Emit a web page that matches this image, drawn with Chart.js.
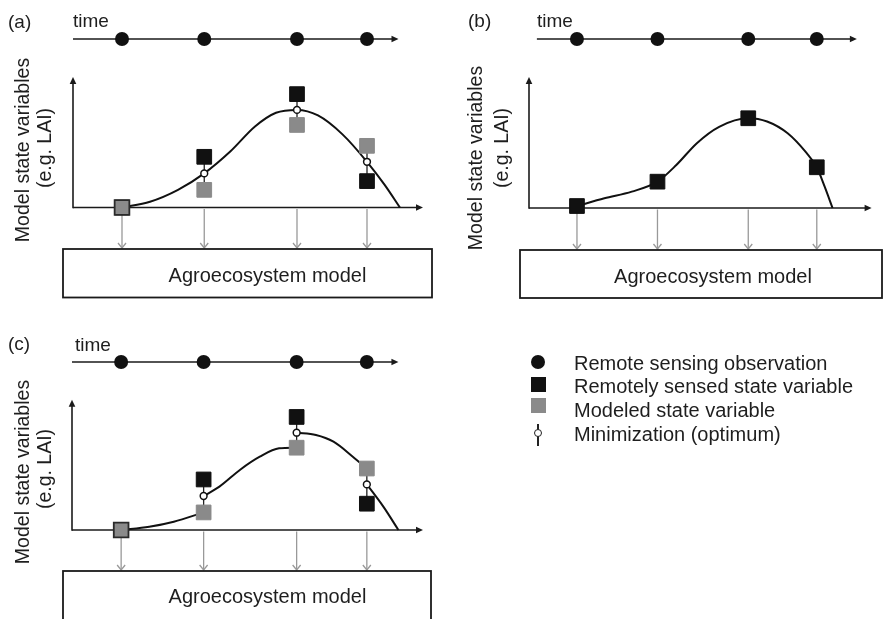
<!DOCTYPE html>
<html>
<head>
<meta charset="utf-8">
<title>Remote sensing data assimilation schemes</title>
<script src="https://cdn.jsdelivr.net/npm/chart.js@4.4.1/dist/chart.umd.min.js"></script>
<style>
  html, body { margin: 0; padding: 0; background: #fff; }
  #page { position: relative; width: 883px; height: 619px; overflow: hidden;
          font-family: 'Liberation Sans', Arial, Helvetica, sans-serif; color: #1e1e1e; }
  #page canvas { position: absolute; left: 0; top: 0; }
  .t   { position: absolute; white-space: nowrap; line-height: 1; }
  .lbl { font-size: 19px; }
  .box { font-size: 20px; transform: translateX(-50%); }
  .yl  { font-size: 19.5px; transform: translate(-50%, -50%) rotate(-90deg); }
  .lg  { font-size: 20px; left: 574px; }
  .sym { position: absolute; }
</style>
</head>
<body>
<div id="page">
  <canvas id="panel-a" width="883" height="619"></canvas>
  <canvas id="panel-b" width="883" height="619"></canvas>
  <canvas id="panel-c" width="883" height="619"></canvas>

  <!-- panel letters + time labels -->
  <div class="t lbl" style="left:8px;top:12px">(a)</div>
  <div class="t lbl" style="left:73px;top:10.5px">time</div>
  <div class="t lbl" style="left:468px;top:11px">(b)</div>
  <div class="t lbl" style="left:537px;top:10.5px">time</div>
  <div class="t lbl" style="left:8px;top:334px">(c)</div>
  <div class="t lbl" style="left:75px;top:335px">time</div>

  <!-- y axis titles -->
  <div class="t yl" style="left:23px;top:150px">Model state variables</div>
  <div class="t yl" style="left:45px;top:148px">(e.g. LAI)</div>
  <div class="t yl" style="left:476px;top:158px">Model state variables</div>
  <div class="t yl" style="left:502px;top:148px">(e.g. LAI)</div>
  <div class="t yl" style="left:23px;top:472px">Model state variables</div>
  <div class="t yl" style="left:45px;top:469px">(e.g. LAI)</div>

  <!-- model boxes -->
  <div class="t box" style="left:267.5px;top:265px">Agroecosystem model</div>
  <div class="t box" style="left:713px;top:266px">Agroecosystem model</div>
  <div class="t box" style="left:267.5px;top:586px">Agroecosystem model</div>

  <!-- legend -->
  <div class="sym" style="left:531px;top:355px;width:14px;height:14px;border-radius:50%;background:#111"></div>
  <div class="sym" style="left:530.5px;top:376.5px;width:15px;height:15px;background:#111"></div>
  <div class="sym" style="left:530.5px;top:398px;width:15px;height:15px;background:#8a8a8a"></div>
  <div class="sym" style="left:537.2px;top:424px;width:1.6px;height:22px;background:#222"></div>
  <div class="sym" style="left:533.5px;top:428.8px;width:6px;height:6px;border:1.5px solid #222;border-radius:50%;background:#fff"></div>
  <div class="t lg" style="top:352.5px">Remote sensing observation</div>
  <div class="t lg" style="top:376px">Remotely sensed state variable</div>
  <div class="t lg" style="top:400px">Modeled state variable</div>
  <div class="t lg" style="top:424px">Minimization (optimum)</div>
</div>

<script>
// ── Data (x: position along time, 0–100; y: state variable, 0 = axis, 100 = axis top) ──
const TIMES      = [14, 37.5, 64, 84];   // remote sensing observation dates
const TIME_ROW   = 129;                  // y value of the time axis row
const Y_AXIS_TOP = 100;
const Y_MAX      = 140;

// (a) and (c): remotely sensed vs modeled state and the optimum between them
const SENSED  = [0, 38.8, 86.8, 20.2];
const MODELED = [0, 13.5, 63.2, 47.2];
const OPTIMUM = [null, 26.1, 74.7, 35];

// (a) re-run trajectory through the optima
const CURVE_A_X = [14, 22, 30, 37.5, 45, 52, 58, 64, 70, 77, 84, 89, 93.4];
const CURVE_A_Y = [0, 4.4, 13.5, 26.1, 43, 62, 72.5, 74.7, 70.5, 56, 35, 17.5, 0];

// (b) model forced by the remotely sensed state
const SENSED_B  = [1.5, 20.1, 68.5, 31.1];
const CURVE_B_X = [14, 22, 30, 37.5, 43, 49, 55.5, 64, 69.5, 75.5, 81, 84, 86.3, 88.6];
const CURVE_B_Y = [1.5, 7.4, 12.5, 20.1, 32.8, 49.5, 62, 68.5, 66, 57, 42, 31.1, 16.3, 0];

// (c) sequential updating: one piece per interval between observations
const CURVE_C_X = [[14, 22, 29, 37.5], [37.5, 42, 48, 53.5, 59, 64], [64, 69.5, 74.5, 80, 84], [84, 88.7, 93]];
const CURVE_C_Y = [[0, 2.5, 6.4, 13.5], [26.1, 33.3, 46.5, 56.3, 62.7, 63.2], [74.7, 73, 67.8, 56.3, 47.2], [35, 17.9, 0]];

// ── Layout (page pixels) ──
const W = 883, H = 619;
const INK = '#1a1a1a', BLACK = '#111', GRAY = '#8a8a8a', ARROW_GRAY = '#999';

const PANELS = [
  { id: 'a', left: 73,  right: 423, axisY: 207.5, timeY: 39,  timeFrom: 0,   timeTo: 93,   box: [63, 249, 432, 297.5],
    sensed: SENSED, modeled: MODELED, optimum: OPTIMUM, curve: [CURVE_A_X], curveY: [CURVE_A_Y] },
  { id: 'b', left: 529, right: 880, axisY: 208,   timeY: 39,  timeFrom: 2.3, timeTo: 95.7, box: [520, 250, 882, 298],
    sensed: SENSED_B, modeled: null, optimum: null, curve: [CURVE_B_X], curveY: [CURVE_B_Y] },
  { id: 'c', left: 72,  right: 423, axisY: 530,   timeY: 362, timeFrom: 0,   timeTo: 93,   box: [63, 571, 431, 640],
    sensed: SENSED, modeled: MODELED, optimum: OPTIMUM, curve: CURVE_C_X, curveY: CURVE_C_Y }
];

// ── Helpers ──
const pts = (xs, ys) => xs.map((x, i) => ({ x, y: ys[i] }));

function pieces(xsList, ysList) {
  const out = [];
  xsList.forEach((xs, s) => {
    if (s > 0) out.push({ x: xs[0], y: null });   // break between pieces
    out.push(...pts(xs, ysList[s]));
  });
  return out;
}

function connectors(obs, mod) {
  const out = [];
  TIMES.forEach((t, i) => {
    if (obs[i] === mod[i]) return;
    out.push({ x: t, y: obs[i] }, { x: t, y: mod[i] }, { x: t, y: null });
  });
  return out;
}

function seg(ctx, x1, y1, x2, y2) {
  ctx.beginPath(); ctx.moveTo(x1, y1); ctx.lineTo(x2, y2); ctx.stroke();
}

function head(ctx, x, y, dir) {
  const l = 7, h = 3.3;
  ctx.beginPath();
  if (dir === 'right') { ctx.moveTo(x, y); ctx.lineTo(x - l, y - h); ctx.lineTo(x - l, y + h); }
  else                 { ctx.moveTo(x, y); ctx.lineTo(x - h, y + l); ctx.lineTo(x + h, y + l); }
  ctx.closePath(); ctx.fill();
}

// ── Axes, time line, down arrows and model box ──
function diagram(p) {
  return {
    id: 'diagram',
    beforeDatasetsDraw(chart) {
      const { ctx, scales: { x, y } } = chart;
      const x0 = x.getPixelForValue(0), y0 = y.getPixelForValue(0);
      const xEnd = x.getPixelForValue(100), yTop = y.getPixelForValue(Y_AXIS_TOP);
      const ty = y.getPixelForValue(TIME_ROW);
      ctx.save();
      ctx.strokeStyle = INK; ctx.fillStyle = INK;

      ctx.lineWidth = 1.6;
      seg(ctx, x0, y0, xEnd - 5, y0);
      seg(ctx, x0, y0 + 0.8, x0, yTop + 5);
      head(ctx, xEnd, y0, 'right');
      head(ctx, x0, yTop, 'up');

      ctx.lineWidth = 1.5;
      const t0 = x.getPixelForValue(p.timeFrom), t1 = x.getPixelForValue(p.timeTo);
      seg(ctx, t0, ty, t1 - 5, ty);
      head(ctx, t1, ty, 'right');

      const [bl, bt, br, bb] = p.box;
      ctx.strokeStyle = ARROW_GRAY; ctx.lineWidth = 1.3;
      TIMES.forEach(t => {
        const px = x.getPixelForValue(t);
        seg(ctx, px, y0 + 1.5, px, bt - 1);
        ctx.beginPath();
        ctx.moveTo(px - 4, bt - 6); ctx.lineTo(px, bt - 1); ctx.lineTo(px + 4, bt - 6);
        ctx.stroke();
      });

      ctx.strokeStyle = INK; ctx.lineWidth = 1.8;
      ctx.strokeRect(bl, bt, br - bl, bb - bt);
      ctx.restore();
    }
  };
}

function datasets(p) {
  const ds = [];
  ds.push({
    label: 'Remote sensing observation',
    data: TIMES.map(t => ({ x: t, y: TIME_ROW })),
    pointStyle: 'circle', pointRadius: 7, pointBackgroundColor: BLACK, pointBorderColor: BLACK,
    pointBorderWidth: 0, order: 0
  });
  if (p.optimum) ds.push({
    label: 'Minimization (optimum)',
    data: pts(TIMES, p.optimum),
    pointStyle: 'circle', pointRadius: 3.4, pointBackgroundColor: '#fff', pointBorderColor: BLACK,
    pointBorderWidth: 1.5, order: 0
  });
  if (p.modeled) ds.push({
    label: 'Modeled state variable',
    data: pts(TIMES, p.modeled),
    pointStyle: 'rect', pointRadius: 10.4, pointBackgroundColor: GRAY,
    pointBorderColor: ['#2a2a2a', GRAY, GRAY, GRAY], pointBorderWidth: [1.8, 1, 1, 1], order: 1
  });
  ds.push({
    label: 'Remotely sensed state variable',
    data: pts(TIMES, p.sensed),
    pointStyle: 'rect', pointRadius: 10.4, pointBackgroundColor: BLACK, pointBorderColor: BLACK,
    pointBorderWidth: 1, order: 2
  });
  if (p.modeled) ds.push({
    type: 'line', label: 'misfit',
    data: connectors(p.sensed, p.modeled),
    borderColor: '#222', borderWidth: 1.3, pointRadius: 0, tension: 0, spanGaps: false, order: 3
  });
  ds.push({
    type: 'line', label: 'trajectory',
    data: pieces(p.curve, p.curveY),
    borderColor: BLACK, borderWidth: 2, pointRadius: 0, fill: false,
    cubicInterpolationMode: 'monotone', spanGaps: false, order: 4
  });
  ds.forEach(d => { d.clip = false; });
  return ds;
}

PANELS.forEach(p => {
  // chart area spans from the time row down to the state-variable x axis
  const top = p.axisY - (p.axisY - p.timeY) * Y_MAX / TIME_ROW;
  new Chart(document.getElementById('panel-' + p.id), {
    type: 'scatter',
    data: { datasets: datasets(p) },
    options: {
      responsive: false,
      animation: false,
      events: [],
      layout: { padding: { left: p.left, right: W - p.right, top: top, bottom: H - p.axisY } },
      plugins: { legend: { display: false }, tooltip: { enabled: false } },
      scales: {
        x: { type: 'linear', min: 0, max: 100, display: false },
        y: { type: 'linear', min: 0, max: Y_MAX, display: false }
      }
    },
    plugins: [diagram(p)]
  });
});
</script>
</body>
</html>
